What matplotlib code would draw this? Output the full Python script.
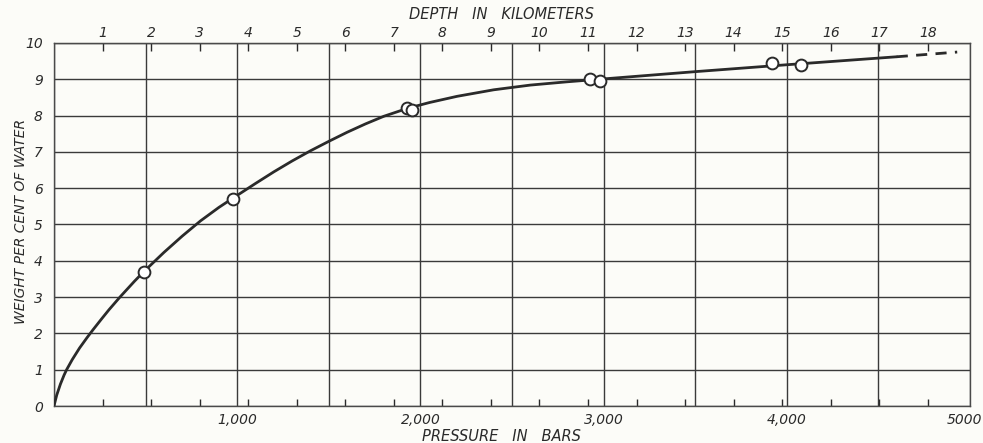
import numpy as np
import matplotlib.pyplot as plt
import matplotlib.transforms as mtransforms

# measured points: pressure (bars) vs weight per cent of water
p_obs = [490, 975, 1925, 1955, 2928, 2983, 3917, 4077]
w_obs = [3.68, 5.70, 8.22, 8.16, 9.02, 8.95, 9.44, 9.38]

# smooth curve drawn through the data (solid part)
p_curve = [0, 15, 35, 55, 69, 100, 140, 180, 213, 260, 300, 360, 400, 440,
           490, 600, 700, 800, 900, 975, 1100, 1200, 1300, 1400, 1500, 1600,
           1700, 1800, 1930, 2050, 2200, 2400, 2600, 2800, 3000, 3500, 4000,
           4300, 4600]
w_curve = [0, 0.30, 0.60, 0.85, 1.00, 1.28, 1.60, 1.88, 2.10, 2.40, 2.65,
           3.00, 3.22, 3.44, 3.70, 4.23, 4.68, 5.10, 5.47, 5.72, 6.13, 6.45,
           6.75, 7.03, 7.29, 7.54, 7.77, 7.98, 8.20, 8.36, 8.53, 8.71, 8.84,
           8.93, 9.01, 9.21, 9.40, 9.51, 9.62]
# extrapolated part (dashed)
p_ext = [4600, 4930]
w_ext = [9.62, 9.75]

depth_km = np.arange(1, 19)
bars_per_km = 265.0

bottom_ticks = [0, 500, 1000, 1500, 2000, 2500, 3000, 3500, 4000, 4500, 5000]
bottom_labels = ['', '', '1,000', '', '2,000', '', '3,000', '', '4,000', '', '5000']
y_ticks = list(range(0, 11))

ink = '#2a2a2a'
paper = '#fcfcf8'
plt.rcParams['font.family'] = ['DejaVu Sans']

fig = plt.figure(figsize=(9.83, 4.43), dpi=100, facecolor=paper)
ax = fig.add_axes([0.0549, 0.0835, 0.9319, 0.8195], facecolor=paper)

ax.set_xlim(0, 5000)
ax.set_ylim(0, 10)

ax.set_xticks(bottom_ticks)
ax.set_xticklabels(bottom_labels, fontstyle='italic', fontsize=10, color=ink)
ax.set_yticks(y_ticks)
ax.set_yticklabels([str(v) for v in y_ticks], fontstyle='italic', fontsize=10, color=ink)
ax.tick_params(axis='both', which='major', length=0, pad=5)
ax.tick_params(axis='y', pad=8)
ax.grid(True, color='#3a3a3a', linewidth=1.0)

# last pressure label sits right at the figure edge; nudge it in a little
lab = ax.get_xticklabels()[-1]
lab.set_horizontalalignment('right')
lab.set_transform(lab.get_transform() + mtransforms.ScaledTranslation(12 / 100, 0, fig.dpi_scale_trans))

# depth ticks repeated along the bottom edge, pointing in
ax.set_xticks(depth_km * bars_per_km, minor=True)
ax.tick_params(axis='x', which='minor', direction='in', length=5, width=1.0, color=ink)

for s in ax.spines.values():
    s.set_color('#4a4a4a')
    s.set_linewidth(1.0)

ax.plot(p_curve, w_curve, color=ink, linewidth=2.0, solid_capstyle='round',
        solid_joinstyle='round', zorder=3)
ax.plot(p_ext, w_ext, color=ink, linewidth=2.0, linestyle=(0, (4, 3)), zorder=3)
ax.plot(p_obs, w_obs, linestyle='none', marker='o', markersize=8.5,
        markerfacecolor='white', markeredgecolor=ink, markeredgewidth=1.4, zorder=4)

top = ax.secondary_xaxis('top', functions=(lambda p: p / bars_per_km,
                                          lambda d: d * bars_per_km))
top.set_xticks(depth_km)
top.set_xticklabels([str(d) for d in depth_km], fontstyle='italic', fontsize=10, color=ink)
top.tick_params(direction='in', length=6, width=1.0, color=ink, pad=2)
top.spines['top'].set_color('#4a4a4a')

fig.text(0.51, 0.968, 'DEPTH   IN   KILOMETERS', ha='center', va='center',
         fontstyle='italic', fontsize=10.5, color=ink)
fig.text(0.51, 0.014, 'PRESSURE   IN   BARS', ha='center', va='center',
         fontstyle='italic', fontsize=10.5, color=ink)
fig.text(0.021, 0.50, 'WEIGHT PER CENT OF WATER', ha='center', va='center',
         rotation=90, fontstyle='italic', fontsize=10, color=ink)

fig.savefig('out.png', dpi=100, facecolor=paper)
